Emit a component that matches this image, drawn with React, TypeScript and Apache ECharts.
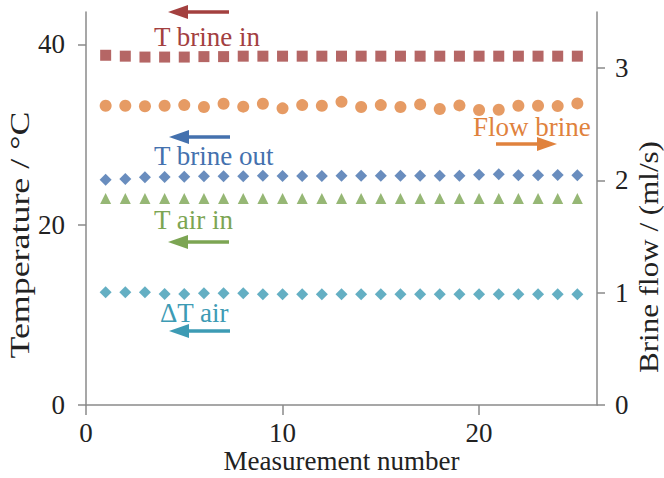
import React, { useEffect, useRef } from "react";
import * as echarts from "echarts";

const measurement = [1,2,3,4,5,6,7,8,9,10,11,12,13,14,15,16,17,18,19,20,21,22,23,24,25];
const tBrineIn = [38.8,38.7,38.6,38.6,38.6,38.65,38.65,38.7,38.7,38.7,38.7,38.7,38.7,38.7,38.7,38.7,38.7,38.7,38.7,38.7,38.7,38.7,38.7,38.7,38.7];
const flowBrine = [2.665,2.665,2.66,2.665,2.671,2.654,2.683,2.657,2.683,2.642,2.671,2.665,2.70,2.654,2.671,2.654,2.677,2.636,2.668,2.627,2.63,2.665,2.665,2.662,2.686];
const tBrineOut = [25.0,25.07,25.26,25.3,25.33,25.37,25.37,25.37,25.44,25.41,25.41,25.41,25.44,25.44,25.44,25.44,25.44,25.44,25.44,25.55,25.59,25.48,25.48,25.52,25.48];
const tAirIn = [22.9,22.9,22.9,22.9,22.9,22.9,22.9,22.9,22.9,22.9,22.9,22.9,22.9,22.9,22.9,22.9,22.9,22.9,22.9,22.9,22.9,22.9,22.9,22.9,22.9];
const deltaTAir = [12.5,12.5,12.5,12.32,12.32,12.39,12.39,12.39,12.28,12.28,12.28,12.28,12.28,12.28,12.28,12.28,12.28,12.28,12.28,12.28,12.28,12.28,12.28,12.28,12.28];
const leftTicks = [0, 20, 40];
const rightTicks = [0, 1, 2, 3];

const FONT = '"Liberation Serif", "Times New Roman", serif';
const FS = 27;
const C_RED = "#A3403F";
const C_ORANGE = "#E0823D";
const C_BLUE = "#4471AE";
const C_GREEN = "#7CA553";
const C_TEAL = "#3D9BB4";
const AXIS = "#8a8a8a";
const INK = "#222222";

function pairs(ys: number[]) {
  return measurement.map((x, i) => [x, ys[i]]);
}

function arrow(x1: number, x2: number, y: number, color: string, dir: "left" | "right") {
  const head = 20;
  const half = 7;
  const baseX = dir === "left" ? x2 + head : x2 - head;
  return [
    { type: "line", shape: { x1, y1: y, x2: baseX, y2: y }, style: { stroke: color, lineWidth: 3.5 } },
    { type: "polygon", shape: { points: [[x2, y], [baseX, y - half], [baseX, y + half]] }, style: { fill: color } },
  ];
}

function label(text: string, x: number, y: number, color: string) {
  return {
    type: "text",
    x, y,
    style: { text, fill: color, font: `${FS}px ${FONT}`, verticalAlign: "middle" },
  };
}

function vTitle(text: string, x: number, y: number, stretch: number) {
  return {
    type: "text",
    x, y,
    rotation: Math.PI / 2,
    scaleX: stretch,
    style: { text, fill: INK, font: `${FS}px ${FONT}`, align: "center", verticalAlign: "middle" },
  };
}

export default function App() {
  const ref = useRef<HTMLDivElement>(null);
  useEffect(() => {
    if (!ref.current) return;
    const chart = echarts.init(ref.current, null, { renderer: "svg" });
    const axisCommon = {
      axisLine: { show: true, lineStyle: { color: AXIS, width: 1.5 } },
      axisTick: { show: true, length: 8, lineStyle: { color: AXIS, width: 1.5 } },
      splitLine: { show: false },
    };
    chart.setOption({
      animation: false,
      backgroundColor: "#ffffff",
      textStyle: { fontFamily: FONT },
      grid: { left: 86, right: 67, top: 12, bottom: 73, containLabel: false, outerBoundsMode: "none" },
      xAxis: {
        type: "value",
        min: 0, max: 26, interval: 10,
        ...axisCommon,
        axisTick: { ...axisCommon.axisTick, length: 10 },
        axisLabel: { fontSize: FS, color: INK, fontFamily: FONT, margin: 15, lineHeight: 26, showMaxLabel: false },
        name: "Measurement number",
        nameLocation: "middle",
        nameGap: 42,
        nameMoveOverlap: false,
        nameTextStyle: { fontSize: FS, color: INK, fontFamily: FONT, lineHeight: 28 },
      },
      yAxis: [
        {
          type: "value",
          min: 0, max: 43.6,
          position: "left",
          ...axisCommon,
          axisTick: { ...axisCommon.axisTick, customValues: leftTicks },
          axisLabel: { fontSize: FS, color: INK, fontFamily: FONT, margin: 21, customValues: leftTicks },
        },
        {
          type: "value",
          min: 0, max: 3.5,
          position: "right",
          ...axisCommon,
          axisTick: { ...axisCommon.axisTick, customValues: rightTicks },
          axisLabel: { fontSize: FS, color: INK, fontFamily: FONT, margin: 18, customValues: rightTicks },
        },
      ],
      series: [
        { name: "T brine in", type: "scatter", symbol: "rect", symbolSize: 11, data: pairs(tBrineIn), itemStyle: { color: C_RED } },
        { name: "Flow brine", type: "scatter", symbol: "circle", symbolSize: 12, yAxisIndex: 1, data: pairs(flowBrine), itemStyle: { color: C_ORANGE } },
        { name: "T brine out", type: "scatter", symbol: "diamond", symbolSize: 12, data: pairs(tBrineOut), itemStyle: { color: C_BLUE } },
        { name: "T air in", type: "scatter", symbol: "triangle", symbolSize: 11, data: pairs(tAirIn), itemStyle: { color: C_GREEN } },
        { name: "ΔT air", type: "scatter", symbol: "diamond", symbolSize: 12, data: pairs(deltaTAir), itemStyle: { color: C_TEAL } },
      ],
      graphic: [
        vTitle("Temperature / °C", 20, 235, 1.33),
        vTitle("Brine flow / (ml/s)", 649, 257, 1.15),
        ...arrow(229, 168, 12, C_RED, "left"),
        label("T brine in", 154, 37, C_RED),
        ...arrow(230, 169, 137, C_BLUE, "left"),
        label("T brine out", 154, 156, C_BLUE),
        label("T air in", 154, 220, C_GREEN),
        ...arrow(229, 168, 242, C_GREEN, "left"),
        label("ΔT air", 160, 313, C_TEAL),
        ...arrow(230, 169, 331, C_TEAL, "left"),
        label("Flow brine", 473, 127, C_ORANGE),
        ...arrow(496, 557, 144, C_ORANGE, "right"),
      ],
    });
    return () => chart.dispose();
  }, []);
  return <div ref={ref} style={{ position: "fixed", left: 0, top: 0, width: 664, height: 478 }} />;
}
